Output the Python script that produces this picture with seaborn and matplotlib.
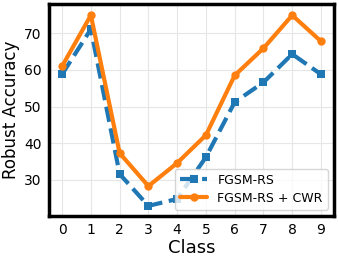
import matplotlib
matplotlib.use("Agg")
import matplotlib.pyplot as plt
import seaborn as sns
import pandas as pd

classes = [0, 1, 2, 3, 4, 5, 6, 7, 8, 9]
fgsm_rs = [58.8, 71.1, 31.6, 22.9, 24.8, 36.2, 51.2, 56.6, 64.3, 58.8]
fgsm_rs_cwr = [61.0, 74.9, 37.3, 28.3, 34.6, 42.2, 58.5, 65.9, 74.9, 67.8]

sns.set_style("whitegrid", {"grid.color": "#e6e6e6", "text.color": "black",
                            "axes.labelcolor": "black", "xtick.color": "black",
                            "ytick.color": "black"})
plt.rcParams['font.family'] = ['DejaVu Sans']

df = pd.DataFrame({"Class": classes, "FGSM-RS": fgsm_rs, "FGSM-RS + CWR": fgsm_rs_cwr})

fig, ax = plt.subplots(figsize=(3.39, 2.6), dpi=100)
sns.lineplot(data=df, x="Class", y="FGSM-RS", ax=ax, color="#1f77b4",
             linestyle="--", linewidth=3, marker="s", markersize=6,
             markeredgewidth=0, label="FGSM-RS")
sns.lineplot(data=df, x="Class", y="FGSM-RS + CWR", ax=ax, color="#ff7f0e",
             linestyle="-", linewidth=3, marker="o", markersize=6,
             markeredgewidth=0, label="FGSM-RS + CWR")

ax.set_xticks(classes)
ax.set_ylim(20.2, 78)
ax.set_yticks([30, 40, 50, 60, 70])
ax.tick_params(labelsize=10, pad=2)
ax.set_xlabel("Class", fontsize=13, labelpad=1)
ax.set_ylabel("Robust Accuracy", fontsize=12, labelpad=3)
for s in ax.spines.values():
    s.set_color("black")
    s.set_linewidth(2.5)
ax.legend(loc="lower right", fontsize=9, frameon=True, handlelength=2.2,
          borderpad=0.4, labelspacing=0.4)

plt.subplots_adjust(left=0.145, right=0.985, top=0.985, bottom=0.17)
plt.savefig("out.png", dpi=100)
